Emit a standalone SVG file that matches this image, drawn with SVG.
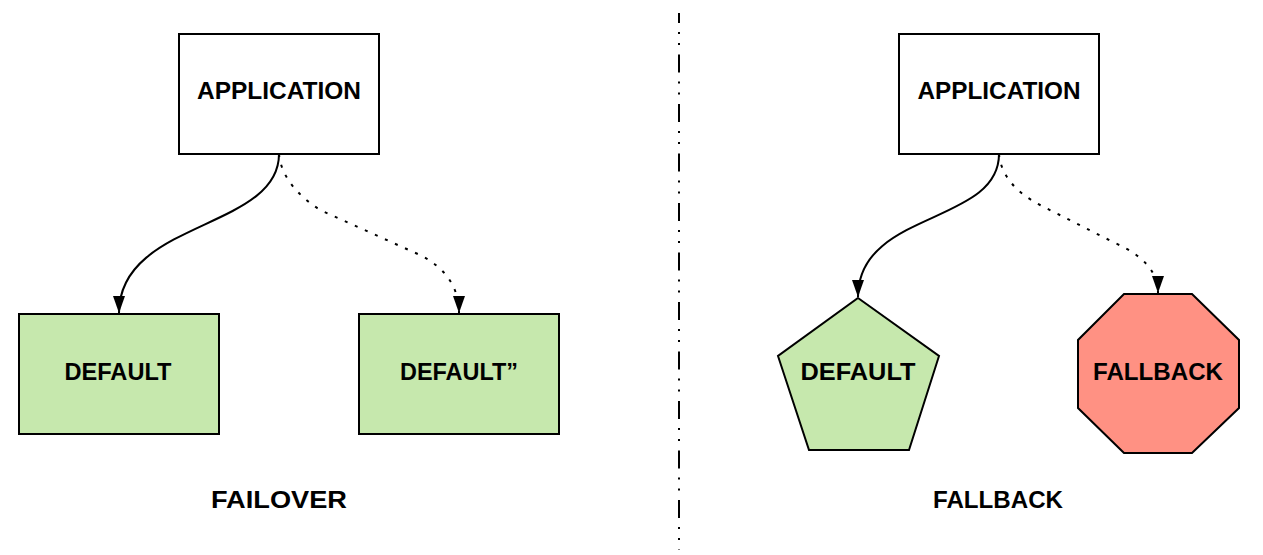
<svg xmlns="http://www.w3.org/2000/svg" width="1263" height="555" viewBox="0 0 1263 555">
<style>
.box{fill:#ffffff;stroke:#000;stroke-width:2}
.green{fill:#c6e8ad;stroke:#000;stroke-width:2}
.red{fill:#ff9183;stroke:#000;stroke-width:2}
.lbl{font-family:"Liberation Sans",Arial,sans-serif;font-weight:bold;font-size:24px;fill:#000;text-anchor:middle}
.edge{fill:none;stroke:#000;stroke-width:2}
.dot{stroke-dasharray:3 8}
</style>
<defs>
<marker id="ah" markerUnits="userSpaceOnUse" markerWidth="18" markerHeight="14" viewBox="0 0 18 14" refX="17" refY="7" orient="auto">
<path d="M0,1 L17,7 L0,13 Z" fill="#000"/>
</marker>
</defs>
<g id="divider">
<line x1="679" y1="13" x2="679" y2="550" stroke="#000" stroke-width="2" stroke-dasharray="18 9 2 9 2 9.5" stroke-dashoffset="8"/>
</g>
<g id="connectors">
<path class="edge" d="M279,154 C279,230 119,220 119,313" marker-end="url(#ah)"/>
<path class="edge dot" d="M279,154 Q282,185 320,210 L420,255 Q459,275 459,313" marker-end="url(#ah)"/>
<path class="edge" d="M999,154 C999,225 858,210 858,297" marker-end="url(#ah)"/>
<path class="edge dot" d="M999,154 Q1002,185 1040,205 L1115,243 Q1158,262 1158,293" marker-end="url(#ah)"/>
</g>
<g id="app-left">
<rect class="box" x="179" y="34" width="200" height="120"/>
<text class="lbl" x="279" y="99" textLength="164" lengthAdjust="spacingAndGlyphs">APPLICATION</text>
</g>
<g id="default-left">
<rect class="green" x="19" y="314" width="200" height="120"/>
<text class="lbl" x="118" y="380" textLength="107" lengthAdjust="spacingAndGlyphs">DEFAULT</text>
</g>
<g id="default-2">
<rect class="green" x="359" y="314" width="200" height="120"/>
<text class="lbl" x="459" y="380" textLength="118" lengthAdjust="spacingAndGlyphs">DEFAULT”</text>
</g>
<g id="app-right">
<rect class="box" x="899" y="34" width="200" height="120"/>
<text class="lbl" x="999" y="99" textLength="163" lengthAdjust="spacingAndGlyphs">APPLICATION</text>
</g>
<g id="default-pentagon">
<polygon class="green" points="858,298 939,356 909,450 809,450 778,356"/>
<text class="lbl" x="858" y="380" textLength="115" lengthAdjust="spacingAndGlyphs">DEFAULT</text>
</g>
<g id="fallback-octagon">
<polygon class="red" points="1124,294 1192,294 1239,340 1239,408 1192,453 1124,453 1078,408 1078,340"/>
<text class="lbl" x="1158" y="380" textLength="130" lengthAdjust="spacingAndGlyphs">FALLBACK</text>
</g>
<g id="caption-failover">
<text class="lbl" x="279" y="508" textLength="136" lengthAdjust="spacingAndGlyphs">FAILOVER</text>
</g>
<g id="caption-fallback">
<text class="lbl" x="998" y="508" textLength="130" lengthAdjust="spacingAndGlyphs">FALLBACK</text>
</g>
</svg>
